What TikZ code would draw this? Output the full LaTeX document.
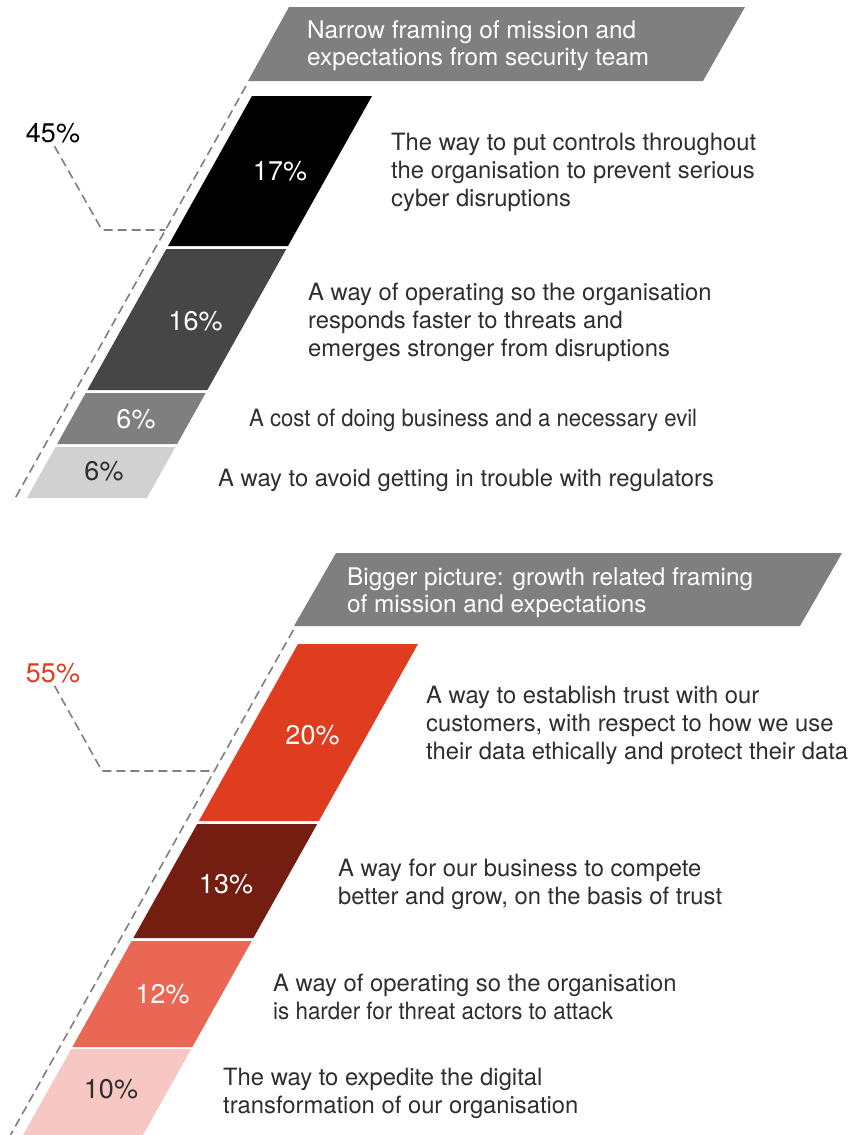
\documentclass[tikz,border=0pt]{standalone}
\usepackage{fontspec}
\setmainfont{TeX Gyre Heros}
\definecolor{hdrgray}{HTML}{7F7F7F}
\definecolor{bandblack}{HTML}{000000}
\definecolor{banddark}{HTML}{464646}
\definecolor{bandmid}{HTML}{7F7F7F}
\definecolor{bandlight}{HTML}{D1D1D1}
\definecolor{bandred}{HTML}{E03C1F}
\definecolor{bandmaroon}{HTML}{741E11}
\definecolor{bandsalmon}{HTML}{EA6754}
\definecolor{bandpink}{HTML}{F7C8C3}
\definecolor{txtdark}{HTML}{2E2E2E}
\tikzset{
  desc/.style={anchor=west, align=left, inner sep=0pt, text=txtdark, font=\fontsize{23.8}{28}\selectfont},
  pct/.style={inner sep=0pt, font=\fontsize{27}{30}\selectfont, text=white},
  pctdark/.style={pct, text=txtdark},
  hdr/.style={anchor=west, align=left, inner sep=0pt, text=white, font=\fontsize{24.3}{27}\selectfont},
  guide/.style={draw=hdrgray, line width=1.6pt, dash pattern=on 9pt off 5pt},
}
% #1 top y, #2 bottom y, #3 left x at y=#4, #4 reference y, #5 colour
\newcommand{\slantband}[5]{%
  \fill[#5] ({#3-0.56*(#1-#4)},#1) -- ({#3-0.56*(#1-#4)+120},#1)
    -- ({#3-0.56*(#2-#4)+120},#2) -- ({#3-0.56*(#2-#4)},#2) -- cycle;}
\newcommand{\tightline}[2]{\scalebox{#1}[1]{#2}}
\begin{document}
\begin{tikzpicture}[x=1pt,y=-1pt]
\useasboundingbox (0,0) rectangle (864,1135);

% ---------- upper block ----------
\fill[hdrgray] (248,81) -- (289,7) -- (745,7) -- (703,81) -- cycle;
\node[hdr] (h1) at (307,46) {Narrow framing of mission and\\expectations from security team};

\slantband{96}{246}{252}{96}{bandblack}
\slantband{249}{390}{252}{96}{banddark}
\slantband{393}{444}{252}{96}{bandmid}
\slantband{447}{498}{252}{96}{bandlight}

\coordinate (g1top) at (246,86);
\coordinate (g1bot) at (14.2,500);
\draw[guide] (g1top) -- (g1bot);

\node[pct, text=black] (p45) at (53,133.5) {45\%};
\coordinate (k45) at (102,230);
\coordinate (j45) at (165.4,230);
\draw[guide, shorten <=3pt] (p45.south) -- (k45) -- (j45);

\node[pct] (p17) at (280,171.5) {17\%};
\node[pct] (p16) at (195.5,321.5) {16\%};
\node[pct] (p6a) at (136,419) {6\%};
\node[pctdark] (p6b) at (104,471.5) {6\%};

\node[desc] (d17) at (391,172.5) {The way to put controls throughout\\the organisation to prevent serious\\cyber disruptions};
\node[desc] (d16) at (308,322.5) {A way of operating so the organisation\\responds faster to threats and\\emerges stronger from disruptions};
\node[desc] (d6a) at (249,420.5) {\tightline{0.93}{A cost of doing business and a necessary evil}};
\node[desc] (d6b) at (218,480.5) {A way to avoid getting in trouble with regulators};

% ---------- lower block ----------
\fill[hdrgray] (294,626) -- (336,553) -- (842,553) -- (800,626) -- cycle;
\node[hdr] (h2) at (347,593) {Bigger picture: growth related framing\\of mission and expectations};

\slantband{644}{821}{298}{644}{bandred}
\slantband{824}{938}{298}{644}{bandmaroon}
\slantband{941}{1047}{298}{644}{bandsalmon}
\slantband{1049}{1135}{298}{644}{bandpink}

\coordinate (g2top) at (293.3,630);
\coordinate (g2bot) at (10.5,1135);
\draw[guide] (g2top) -- (g2bot);

\node[pct, text=bandred] (p55) at (53,673) {55\%};
\coordinate (k55) at (102,771);
\coordinate (j55) at (214.4,771);
\draw[guide, shorten <=3pt] (p55.south) -- (k55) -- (j55);

\node[pct] (p20) at (312.5,735) {20\%};
\node[pct] (p13) at (226,884) {13\%};
\node[pct] (p12) at (162.5,994) {12\%};
\node[pctdark] (p10) at (111,1089) {10\%};

\node[desc] (d20) at (426,725.5) {A way to establish trust with our\\customers, with respect to how we use\\their data ethically and protect their data};
\node[desc] (d13) at (338,884) {A way for our business to compete\\better and grow, on the basis of trust};
\node[desc] (d12) at (273,996.5) {A way of operating so the organisation\\\tightline{0.94}{is harder for threat actors to attack}};
\node[desc] (d10) at (223,1093.5) {The way to expedite the digital\\transformation of our organisation};
\end{tikzpicture}
\end{document}
